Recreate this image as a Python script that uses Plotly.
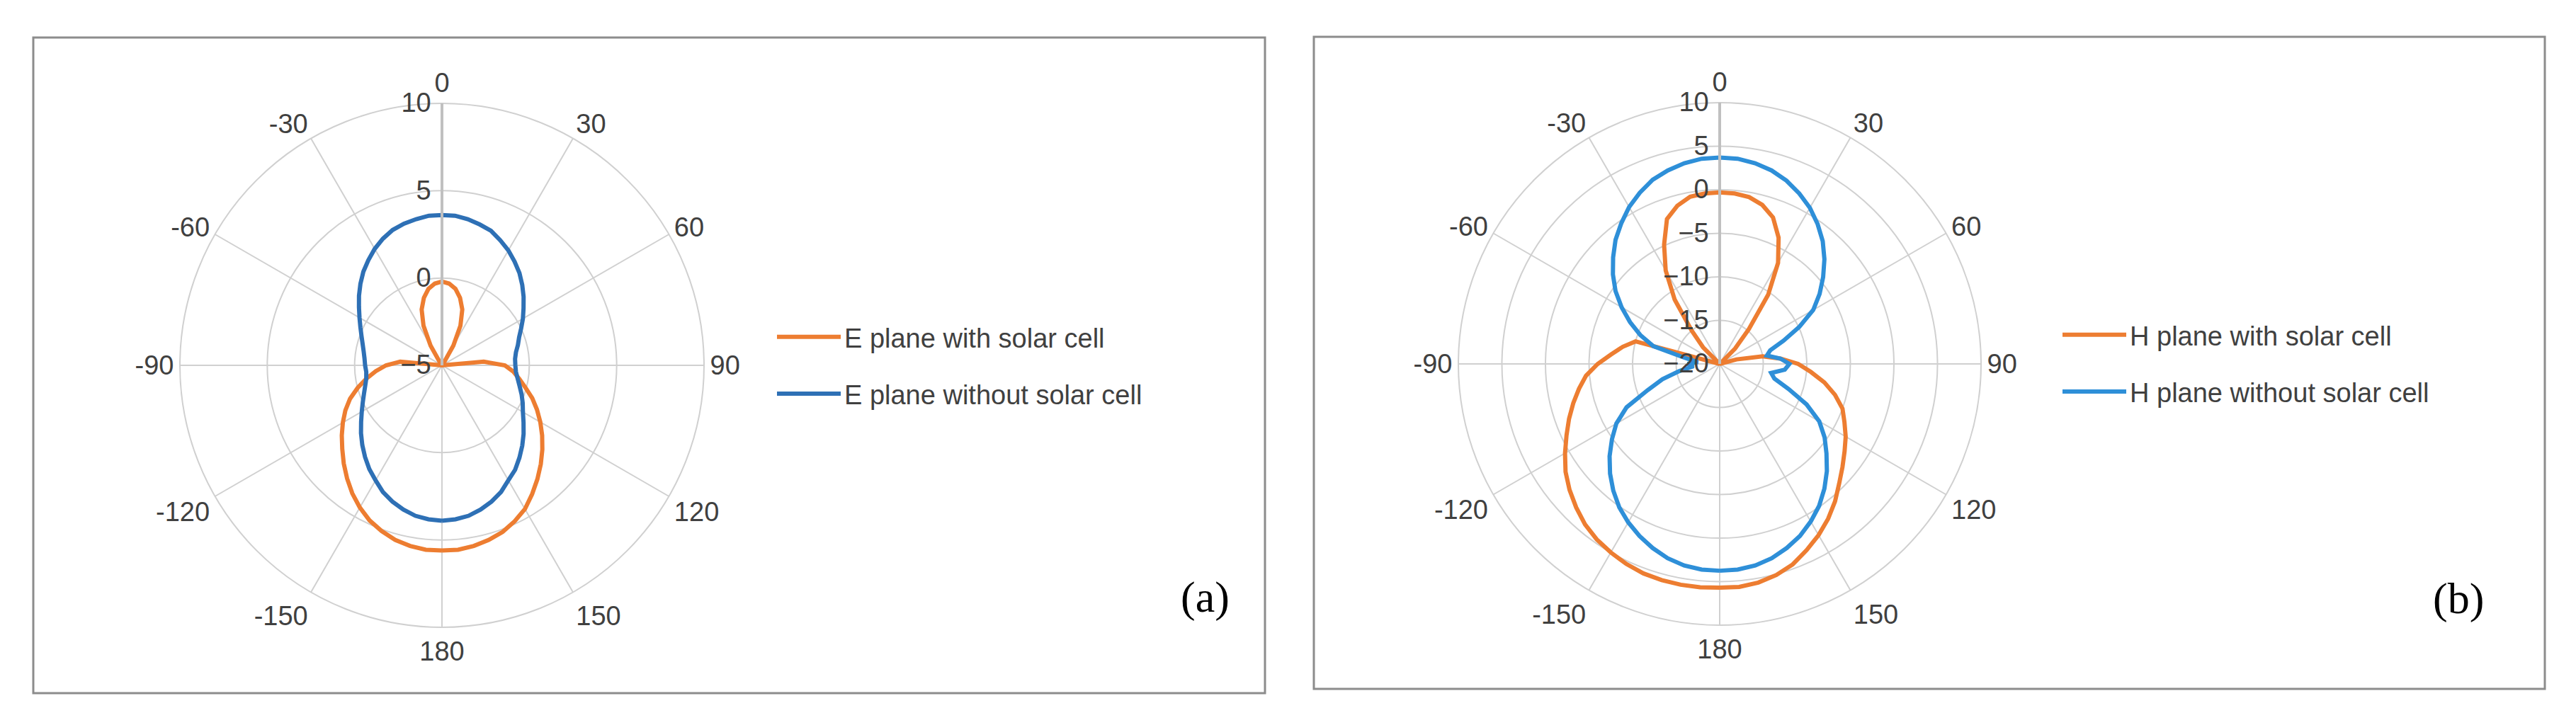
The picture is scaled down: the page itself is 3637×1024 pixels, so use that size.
import plotly.graph_objects as go

# angles in degrees, -180 .. 180 every 5 degrees (same grid for all four curves)
THETA = list(range(-180, 185, 5))

# panel (a): E plane gain (dB)
E_WITH = [5.6, 5.6, 5.5, 5.35, 5.1, 4.8, 4.4, 3.95, 3.45, 2.95, 2.45, 2.0, 1.55,
          1.1, 0.6, 0.0, -0.6, -1.2, -1.8, -2.6, -5.0, -5.2, -5.5, -5.8, -6.1,
          -6.3, -6.2, -5.9, -5.5, -4.8, -3.7, -2.5, -1.6, -1.0, -0.55, -0.3, -0.2,
          -0.3, -0.55, -1.0, -1.6, -2.5, -3.7, -4.8, -5.5, -5.9, -6.2, -6.3, -6.1,
          -5.8, -5.5, -5.2, -5.0, -2.6, -1.4, -0.9, -0.5, -0.05, 0.5, 1.0, 1.5,
          2.0, 2.5, 3.0, 3.5, 4.0, 4.5, 4.85, 5.15, 5.35, 5.5, 5.6, 5.6]
E_WITHOUT = [3.9, 3.85, 3.75, 3.55, 3.3, 3.0, 2.6, 2.25, 1.85, 1.45, 1.05, 0.65, 0.3,
             0.0, -0.25, -0.45, -0.6, -0.65, -0.6, -0.55, -0.45, -0.3, -0.1, 0.15,
             0.45, 0.8, 1.2, 1.6, 2.0, 2.35, 2.7, 3.0, 3.25, 3.4, 3.5, 3.6, 3.6,
             3.6, 3.5, 3.35, 3.2, 2.9, 2.6, 2.25, 1.9, 1.5, 1.1, 0.7, 0.35, 0.0,
             -0.3, -0.5, -0.7, -0.8, -0.8, -0.75, -0.6, -0.4, -0.15, 0.1, 0.35,
             0.7, 1.1, 1.5, 1.9, 2.3, 2.6, 3.0, 3.3, 3.55, 3.75, 3.85, 3.9]

# panel (b): H plane gain (dB)
H_WITH = [5.7, 5.75, 5.75, 5.7, 5.6, 5.35, 5.0, 4.6, 4.05, 3.3, 2.5, 1.6, 0.5,
          -0.6, -1.6, -2.6, -3.6, -4.6, -6.0, -7.5, -8.7, -10.0, -20.3, -20.5,
          -20.5, -21.5, -22.5, -17.3, -15.0, -11.0, -7.6, -4.9, -2.3, -1.2, -0.5,
          -0.35, -0.3, -0.35, -0.55, -1.1, -2.1, -4.0, -6.6, -10.3, -14.8, -17.5,
          -19.8, -20.3, -20.5, -20.5, -20.3, -18.0, -15.0, -13.0, -11.0, -9.5,
          -7.8, -6.3, -5.0, -4.2, -3.3, -2.5, -1.6, -0.6, 0.6, 1.7, 2.7, 3.6,
          4.5, 5.1, 5.5, 5.7, 5.7]
H_WITHOUT = [3.75, 3.7, 3.5, 3.1, 2.5, 1.8, 1.0, 0.1, -1.0, -2.2, -3.5, -4.9, -6.3,
             -8.2, -11.2, -13.2, -15.3, -17.0, -16.3, -17.5, -15.9, -12.1, -10.3,
             -8.65, -7.0, -5.4, -4.0, -2.7, -1.4, -0.3, 0.8, 1.7, 2.5, 3.0, 3.4,
             3.65, 3.7, 3.65, 3.4, 3.0, 2.4, 1.6, 0.7, -0.4, -1.6, -3.0, -4.5,
             -6.0, -7.6, -9.9, -12.2, -14.0, -14.5, -13.0, -12.0, -12.5, -14.0,
             -13.5, -11.6, -9.0, -6.8, -5.3, -4.0, -2.6, -1.3, -0.1, 0.9, 1.8,
             2.5, 3.1, 3.5, 3.7, 3.75]

ANG_TICKS = [0, 30, 60, 90, 120, 150, 180, 210, 240, 270, 300, 330]
ANG_LABELS = ['0', '30', '60', '90', '120', '150', '180', '-150', '-120', '-90', '-60', '-30']

ORANGE = '#ED7D31'
BLUE_A = '#2E70B5'
BLUE_B = '#2E8FD8'
GRID = '#D0D0D0'
TXT = '#404040'
FONT = 'Liberation Sans, Arial, sans-serif'

W, H = 3637, 1024

fig = go.Figure()

fig.add_trace(go.Scatterpolar(r=E_WITH, theta=THETA, mode='lines', name='E plane with solar cell',
                              line=dict(color=ORANGE, width=6), subplot='polar',
                              legend='legend', legendgroup='a1'))
fig.add_trace(go.Scatterpolar(r=E_WITHOUT, theta=THETA, mode='lines', name='E plane without solar cell',
                              line=dict(color=BLUE_A, width=6), subplot='polar',
                              legend='legend', legendgroup='a2'))
fig.add_trace(go.Scatterpolar(r=H_WITH, theta=THETA, mode='lines', name='H plane with solar cell',
                              line=dict(color=ORANGE, width=6), subplot='polar2',
                              legend='legend2', legendgroup='b1'))
fig.add_trace(go.Scatterpolar(r=H_WITHOUT, theta=THETA, mode='lines', name='H plane without solar cell',
                              line=dict(color=BLUE_B, width=6), subplot='polar2',
                              legend='legend2', legendgroup='b2'))


def polar_layout(cx, cy, rad, rmin, rmax):
    # domain box in paper units around the circle centre (pixels from top-left)
    return dict(
        domain=dict(x=[(cx - rad) / W, (cx + rad) / W],
                    y=[(H - cy - rad) / H, (H - cy + rad) / H]),
        bgcolor='white',
        angularaxis=dict(rotation=90, direction='clockwise',
                         tickvals=ANG_TICKS, ticktext=ANG_LABELS,
                         showline=True, linecolor=GRID, linewidth=2,
                         gridcolor=GRID, gridwidth=2, ticks='',
                         tickfont=dict(family=FONT, size=38, color=TXT)),
        radialaxis=dict(range=[rmin, rmax], dtick=5, angle=90, tickangle=90,
                        side='counterclockwise', showline=True, linecolor='#C0C0C0',
                        linewidth=4, gridcolor=GRID, gridwidth=2, ticks='',
                        tickfont=dict(family=FONT, size=38, color=TXT)),
    )


legend_style = dict(xanchor='left', yanchor='middle', bgcolor='rgba(0,0,0,0)',
                    font=dict(family=FONT, size=38, color=TXT),
                    itemwidth=90, tracegroupgap=28)

fig.update_layout(
    width=W, height=H,
    margin=dict(l=0, r=0, t=0, b=0),
    paper_bgcolor='white',
    polar=polar_layout(616, 508, 370, -5, 10),
    polar2=polar_layout(2420, 506, 369, -20, 10),
    legend=dict(x=1084 / W, y=(H - 508) / H, **legend_style),
    legend2=dict(x=2899 / W, y=(H - 505) / H, **legend_style),
    shapes=[
        dict(type='rect', xref='paper', yref='paper', x0=39 / W, x1=1778 / W,
             y0=(H - 971) / H, y1=(H - 45) / H, line=dict(color='#8C8C8C', width=3)),
        dict(type='rect', xref='paper', yref='paper', x0=1847 / W, x1=3585 / W,
             y0=(H - 965) / H, y1=(H - 44) / H, line=dict(color='#8C8C8C', width=3)),
    ],
    annotations=[
        dict(text='(a)', x=1693 / W, y=(H - 872) / H, xref='paper', yref='paper',
             showarrow=False, font=dict(family='Liberation Serif, serif', size=62, color='black')),
        dict(text='(b)', x=3501 / W, y=(H - 874) / H, xref='paper', yref='paper',
             showarrow=False, font=dict(family='Liberation Serif, serif', size=62, color='black')),
    ],
)

fig.write_html("out.html")
